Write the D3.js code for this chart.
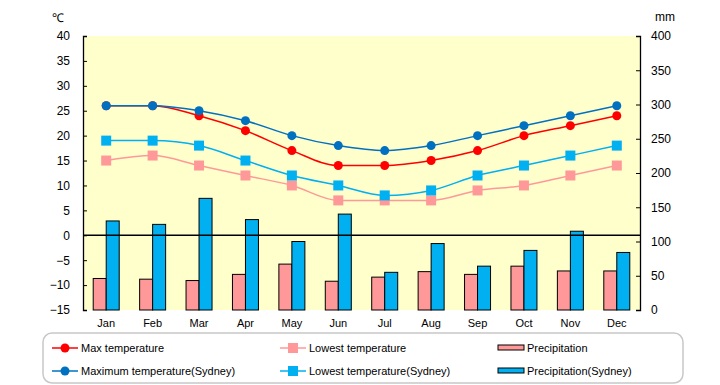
<!DOCTYPE html>
<html>
<head>
<meta charset="utf-8">
<script src="https://cdn.jsdelivr.net/npm/d3@7"></script>
<style>
body { margin: 0; background: #fff; }
svg text { font-family: "Liberation Sans", Arial, sans-serif; fill: #000; }
</style>
</head>
<body>
<div id="chart"></div>
<script>
var months = ["Jan", "Feb", "Mar", "Apr", "May", "Jun", "Jul", "Aug", "Sep", "Oct", "Nov", "Dec"];
var maxTemp = [26, 26, 24, 21, 17, 14, 14, 15, 17, 20, 22, 24];
var lowTemp = [15, 16, 14, 12, 10, 7, 7, 7, 9, 10, 12, 14];
var maxSydney = [26, 26, 25, 23, 20, 18, 17, 18, 20, 22, 24, 26];
var lowSydney = [19, 19, 18, 15, 12, 10, 8, 9, 12, 14, 16, 18];
var precip = [46, 45, 43, 52, 67, 42, 48, 56, 52, 64, 57, 57];
var precipSydney = [130, 125, 163, 132, 100, 140, 55, 97, 64, 87, 115, 84];
var tempTicks = [-15, -10, -5, 0, 5, 10, 15, 20, 25, 30, 35, 40];
var mmTicks = [0, 50, 100, 150, 200, 250, 300, 350, 400];

var width = 720, height = 385;
var plotLeft = 83, plotRight = 640, plotTop = 36, plotBottom = 310;

var svg = d3.select("#chart").append("svg").attr("width", width).attr("height", height);

var x = d3.scaleBand().domain(months).range([plotLeft, plotRight]);
var yT = d3.scaleLinear().domain([-15, 40]).range([plotBottom, plotTop]);
var yP = d3.scaleLinear().domain([0, 400]).range([plotBottom, plotTop]);

// plot background
svg.append("rect").attr("x", plotLeft).attr("y", plotTop)
  .attr("width", plotRight - plotLeft).attr("height", plotBottom - plotTop)
  .attr("fill", "#ffffcc");

// axes
var axL = svg.append("g").attr("transform", "translate(" + plotLeft + ",0)")
  .call(d3.axisRight(yT).tickValues(tempTicks).tickSize(4).tickFormat(d3.format("d")));
axL.selectAll("text").attr("x", -13).attr("text-anchor", "end").attr("font-size", 12);
var axR = svg.append("g").attr("transform", "translate(" + plotRight + ",0)")
  .call(d3.axisLeft(yP).tickValues(mmTicks).tickSize(4));
axR.selectAll("text").attr("x", 11).attr("text-anchor", "start").attr("font-size", 12);
svg.selectAll(".domain").attr("stroke", "#000").attr("stroke-width", 1.3);
svg.selectAll(".tick line").attr("stroke", "#000");
svg.selectAll(".tick text").style("font-family", "Liberation Sans, Arial, sans-serif");

svg.append("text").attr("x", 52).attr("y", 22).attr("font-size", 12).text("℃");
svg.append("text").attr("x", 655).attr("y", 21).attr("font-size", 12).text("mm");

// month labels
svg.append("g").selectAll("text").data(months).enter().append("text")
  .attr("x", function(d) { return x(d) + x.bandwidth() / 2; })
  .attr("y", 327).attr("text-anchor", "middle").attr("font-size", 11)
  .text(function(d) { return d; });

// bars
var bw = 13;
svg.append("g").selectAll("rect").data(precip).enter().append("rect")
  .attr("x", function(d, i) { return x(months[i]) + x.bandwidth() / 2 - bw; })
  .attr("y", function(d) { return yP(d); })
  .attr("width", bw).attr("height", function(d) { return plotBottom - yP(d); })
  .attr("fill", "#ff9999").attr("stroke", "#000").attr("stroke-width", 1);
svg.append("g").selectAll("rect").data(precipSydney).enter().append("rect")
  .attr("x", function(d, i) { return x(months[i]) + x.bandwidth() / 2; })
  .attr("y", function(d) { return yP(d); })
  .attr("width", bw).attr("height", function(d) { return plotBottom - yP(d); })
  .attr("fill", "#00b0f0").attr("stroke", "#000").attr("stroke-width", 1);

// zero line
svg.append("line").attr("x1", plotLeft).attr("x2", plotRight)
  .attr("y1", yT(0)).attr("y2", yT(0)).attr("stroke", "#000").attr("stroke-width", 1.3);

var line = d3.line()
  .x(function(d, i) { return x(months[i]) + x.bandwidth() / 2; })
  .y(function(d) { return yT(d); })
  .curve(d3.curveMonotoneX);

var series = [
  { name: "Max temperature", data: maxTemp, color: "#ff0000", shape: "circle" },
  { name: "Lowest temperature", data: lowTemp, color: "#ff9999", shape: "square" },
  { name: "Maximum temperature(Sydney)", data: maxSydney, color: "#0070c0", shape: "circle" },
  { name: "Lowest temperature(Sydney)", data: lowSydney, color: "#00b0f0", shape: "square" }
];

function marker(g, shape, color, cx, cy) {
  if (shape == "circle") {
    g.append("circle").attr("cx", cx).attr("cy", cy).attr("r", 4.5).attr("fill", color);
  } else {
    g.append("rect").attr("x", cx - 5).attr("y", cy - 5).attr("width", 10).attr("height", 10).attr("fill", color);
  }
}

series.forEach(function(s) {
  var g = svg.append("g");
  g.append("path").attr("d", line(s.data)).attr("fill", "none")
    .attr("stroke", s.color).attr("stroke-width", 1.5);
  s.data.forEach(function(d, i) {
    marker(g, s.shape, s.color, x(months[i]) + x.bandwidth() / 2, yT(d));
  });
});

// legend
svg.append("rect").attr("x", 43).attr("y", 333).attr("width", 640).attr("height", 50)
  .attr("rx", 9).attr("fill", "#fff").attr("stroke", "#c8c8c8").attr("stroke-width", 1.5);

var legendItems = [
  { name: "Max temperature", color: "#ff0000", shape: "circle", lx: 52, ly: 348 },
  { name: "Lowest temperature", color: "#ff9999", shape: "square", lx: 280, ly: 348 },
  { name: "Precipitation", color: "#ff9999", shape: "bar", lx: 498, ly: 348 },
  { name: "Maximum temperature(Sydney)", color: "#0070c0", shape: "circle", lx: 52, ly: 371 },
  { name: "Lowest temperature(Sydney)", color: "#00b0f0", shape: "square", lx: 280, ly: 371 },
  { name: "Precipitation(Sydney)", color: "#00b0f0", shape: "bar", lx: 498, ly: 371 }
];

legendItems.forEach(function(it) {
  var g = svg.append("g");
  if (it.shape == "bar") {
    g.append("rect").attr("x", it.lx).attr("y", it.ly - 3).attr("width", 26).attr("height", 5)
      .attr("fill", it.color).attr("stroke", "#000").attr("stroke-width", 1);
  } else {
    g.append("line").attr("x1", it.lx).attr("x2", it.lx + 26).attr("y1", it.ly).attr("y2", it.ly)
      .attr("stroke", it.color).attr("stroke-width", 1.5);
    marker(g, it.shape, it.color, it.lx + 13, it.ly);
  }
  g.append("text").attr("x", it.lx + 29).attr("y", it.ly + 4).attr("font-size", 11).text(it.name);
});
</script>
</body>
</html>
